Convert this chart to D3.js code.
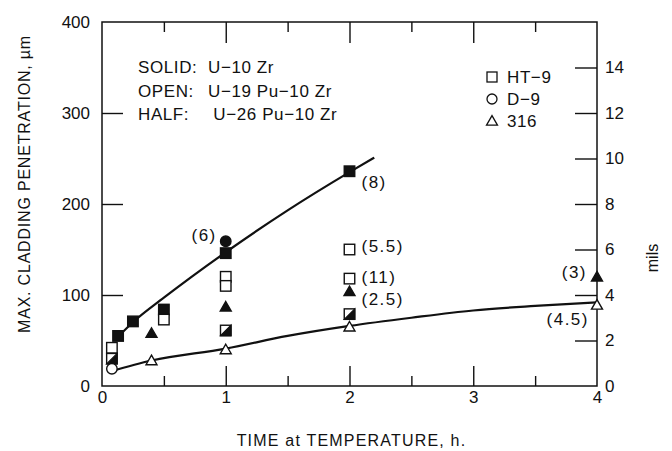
<!DOCTYPE html>
<html>
<head>
<meta charset="utf-8">
<script src="https://cdn.jsdelivr.net/npm/d3@7"></script>
<style>
  body { margin: 0; background: #fff; }
  text { font-family: "Liberation Sans", Arial, sans-serif; fill: #111; }
</style>
</head>
<body>
<svg id="chart" width="672" height="451"></svg>
<script>
// Axis ticks
const xTicks = [0, 1, 2, 3, 4];
const xMinorTicks = [0.5, 1.5, 2.5, 3.5];
const yTicks = [0, 100, 200, 300, 400];
const milTicks = [0, 2, 4, 6, 8, 10, 12, 14];

// Penetration depth (µm) vs time (h); marker shape = cladding, fill = fuel
// HT-9 (squares)
const ht9Solid = [[0.13, 55], [0.25, 71], [0.5, 84], [1, 146], [2, 236]];
const ht9Open  = [[0.08, 42], [0.5, 73], [1, 120], [1, 110], [2, 150], [2, 118]];
const ht9Half  = [[0.08, 30], [1, 61], [2, 79]];
// D-9 (circles)
const d9Solid = [[1, 159]];
const d9Open  = [[0.08, 19]];
// 316 (triangles)
const t316Solid = [[0.4, 58], [1, 87], [2, 104], [4, 120]];
const t316Open  = [[0.4, 28], [1, 40], [2, 65], [4, 89]];

// Trend curves
const upperTrend = [[0.1, 50], [0.25, 70], [0.5, 97], [1, 147], [1.5, 193], [2, 235], [2.2, 251]];
const lowerTrend = [[0.07, 16], [0.4, 28], [1, 41], [1.5, 55], [2, 66], [2.5, 75], [3, 83], [3.5, 88], [4, 92]];

// Numbers of tests at selected points
const noteText  = ["(6)", "(8)", "(5.5)", "(11)", "(2.5)", "(3)", "(4.5)"];
const noteTime  = [1, 2, 2, 2, 2, 4, 4];
const noteValue = [159, 236, 150, 118, 104, 120, 89];

const fuelLines = [["SOLID:", "U\u221210 Zr"], ["OPEN:", "U\u221219 Pu\u221210 Zr"], ["HALF:", " U\u221226 Pu\u221210 Zr"]];
const claddingNames = ["HT\u22129", "D\u22129", "316"];

const svg = d3.select("#chart");
const plotL = 102, plotR = 597, plotT = 22, plotB = 386;

const x = d3.scaleLinear().domain([0, 4]).range([plotL, plotR]);
const y = d3.scaleLinear().domain([0, 400]).range([plotB, plotT]);
const yMil = d3.scaleLinear().domain([0, 16]).range([plotB, plotT]);

const ink = "#111";

// Frame
svg.append("rect")
  .attr("x", plotL).attr("y", plotT)
  .attr("width", plotR - plotL).attr("height", plotB - plotT)
  .attr("fill", "none").attr("stroke", ink).attr("stroke-width", 1.5);

function tickStyle(g) {
  g.select(".domain").remove();
  g.selectAll(".tick line").attr("stroke", ink).attr("stroke-width", 1.4);
  g.selectAll(".tick text").attr("fill", ink).style("font-size", "17px");
}

// Bottom axis
svg.append("g").attr("transform", `translate(0,${plotB})`)
  .call(d3.axisBottom(x).tickValues(xTicks).tickFormat(d3.format("d")).tickSizeInner(-20).tickSizeOuter(0).tickPadding(5))
  .call(tickStyle)
  .call(g => g.selectAll(".tick line").filter(d => d === 0 || d === 4).remove());
svg.append("g").attr("transform", `translate(0,${plotB})`)
  .call(d3.axisBottom(x).tickValues(xMinorTicks).tickFormat("").tickSizeInner(-10).tickSizeOuter(0))
  .call(tickStyle);

// Top axis
svg.append("g").attr("transform", `translate(0,${plotT})`)
  .call(d3.axisTop(x).tickValues([1, 2, 3]).tickFormat("").tickSizeInner(-21).tickSizeOuter(0))
  .call(tickStyle);
svg.append("g").attr("transform", `translate(0,${plotT})`)
  .call(d3.axisTop(x).tickValues(xMinorTicks).tickFormat("").tickSizeInner(-10).tickSizeOuter(0))
  .call(tickStyle);

// Left axis
svg.append("g").attr("transform", `translate(${plotL},0)`)
  .call(d3.axisLeft(y).tickValues(yTicks).tickSizeInner(-21).tickSizeOuter(0).tickPadding(12))
  .call(tickStyle)
  .call(g => g.selectAll(".tick line").filter(d => d === 0 || d === 400).remove());

// Right axis (mils)
svg.append("g").attr("transform", `translate(${plotR},0)`)
  .call(d3.axisRight(yMil).tickValues(milTicks).tickSizeInner(-22).tickSizeOuter(0).tickPadding(8))
  .call(tickStyle)
  .call(g => g.selectAll(".tick line").filter(d => d === 0).remove());

// Axis titles
svg.append("text")
  .attr("transform", `translate(30,${(plotT + plotB) / 2 - 20}) rotate(-90)`)
  .attr("text-anchor", "middle").style("font-size", "16px").style("letter-spacing", "0.8px")
  .text("MAX. CLADDING PENETRATION, \u00b5m");
svg.append("text")
  .attr("x", (plotL + plotR) / 2 + 2).attr("y", 446)
  .attr("text-anchor", "middle").style("font-size", "16px").style("letter-spacing", "1.2px")
  .text("TIME at TEMPERATURE, h.");
svg.append("text")
  .attr("transform", `translate(658,258) rotate(-90)`)
  .attr("text-anchor", "middle").style("font-size", "16px")
  .text("mils");

// Trend curves
const line = d3.line().x(d => x(d[0])).y(d => y(d[1])).curve(d3.curveMonotoneX);
[upperTrend, lowerTrend].forEach(series => {
  svg.append("path").datum(series)
    .attr("d", line).attr("fill", "none").attr("stroke", ink).attr("stroke-width", 2.2);
});

// Markers
const S = 10.5;
function square(g, data, fill) {
  g.selectAll(null).data(data).enter().append("rect")
    .attr("x", d => x(d[0]) - S / 2).attr("y", d => y(d[1]) - S / 2)
    .attr("width", S).attr("height", S)
    .attr("fill", fill ? ink : "#fff").attr("stroke", ink).attr("stroke-width", 1.4);
}
function halfSquare(g, data) {
  square(g, data, false);
  g.selectAll(null).data(data).enter().append("path")
    .attr("d", d => {
      const cx = x(d[0]), cy = y(d[1]), h = S / 2;
      return `M${cx + h},${cy - h}L${cx + h},${cy + h}L${cx - h},${cy + h}Z`;
    })
    .attr("fill", ink).attr("stroke", ink).attr("stroke-width", 1.2);
}
function circle(g, data, fill) {
  g.selectAll(null).data(data).enter().append("circle")
    .attr("cx", d => x(d[0])).attr("cy", d => y(d[1])).attr("r", S / 2)
    .attr("fill", fill ? ink : "#fff").attr("stroke", ink).attr("stroke-width", 1.4);
}
const tri = d3.symbol().type(d3.symbolTriangle).size(52);
function triangle(g, data, fill) {
  g.selectAll(null).data(data).enter().append("path")
    .attr("d", tri)
    .attr("transform", d => `translate(${x(d[0])},${y(d[1]) + 1})`)
    .attr("fill", fill ? ink : "#fff").attr("stroke", ink).attr("stroke-width", 1.4);
}

const marks = svg.append("g");
square(marks, ht9Solid, true);
square(marks, ht9Open, false);
halfSquare(marks, ht9Half);
circle(marks, d9Solid, true);
circle(marks, d9Open, false);
triangle(marks, t316Solid, true);
triangle(marks, t316Open, false);

// Test-count notes
const noteDx = [-9, 12, 12, 12, 12, -10, -8];
const noteDy = [0, 17, 2, 4, 14, 1, 20];
const noteAnchor = ["end", "start", "start", "start", "start", "end", "end"];
svg.append("g").selectAll("text").data(noteText).enter().append("text")
  .attr("x", (d, i) => x(noteTime[i]) + noteDx[i])
  .attr("y", (d, i) => y(noteValue[i]) + noteDy[i])
  .attr("text-anchor", (d, i) => noteAnchor[i])
  .style("font-size", "17px").style("letter-spacing", "1.5px")
  .text(d => d);

// Fuel key
const fuelKey = svg.append("g");
fuelLines.forEach((row, i) => {
  fuelKey.append("text").attr("x", 138).attr("y", 73 + i * 23.5)
    .style("font-size", "17px").style("letter-spacing", "0.6px").text(row[0]);
  fuelKey.append("text").attr("x", 208).attr("y", 73 + i * 23.5)
    .style("font-size", "17px").style("letter-spacing", "0.6px")
    .attr("xml:space", "preserve").text(row[1]);
});

// Cladding key
const keyG = svg.append("g");
const keyY = i => 77 + i * 22;
keyG.append("rect").attr("x", 487).attr("y", keyY(0) - 5).attr("width", 10).attr("height", 10)
  .attr("fill", "#fff").attr("stroke", ink).attr("stroke-width", 1.3);
keyG.append("circle").attr("cx", 492).attr("cy", keyY(1)).attr("r", 5)
  .attr("fill", "#fff").attr("stroke", ink).attr("stroke-width", 1.3);
keyG.append("path").attr("d", tri).attr("transform", `translate(492,${keyY(2) + 1})`)
  .attr("fill", "#fff").attr("stroke", ink).attr("stroke-width", 1.3);
claddingNames.forEach((n, i) => {
  keyG.append("text").attr("x", 507).attr("y", keyY(i) + 6)
    .style("font-size", "17px").style("letter-spacing", "0.6px").text(n);
});
</script>
</body>
</html>
